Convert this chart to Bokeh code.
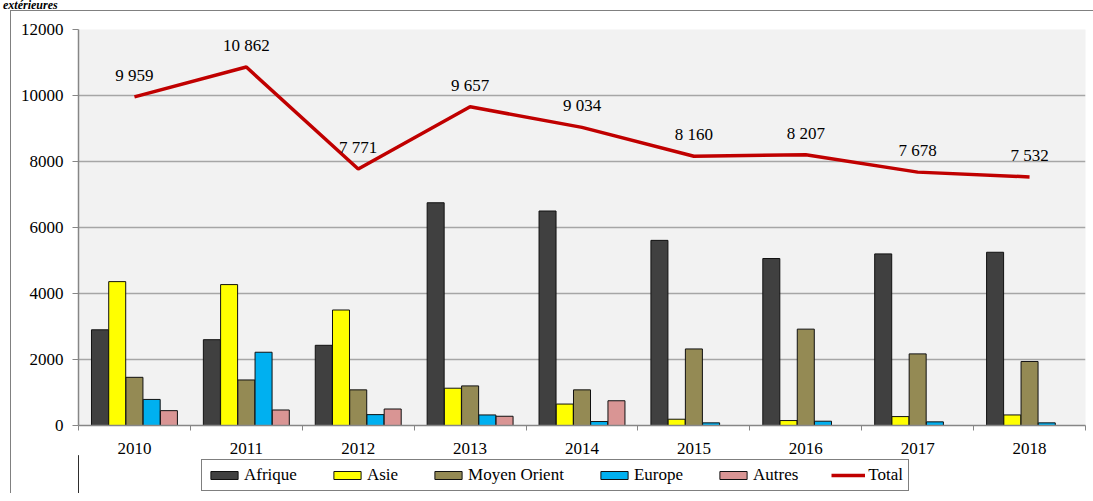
from bokeh.plotting import figure
from bokeh.models import (Range1d, FixedTicker, Legend, LegendItem, ColumnDataSource,
                          Div, InlineStyleSheet)
from bokeh.layouts import column
from bokeh.core.properties import value
from bokeh.embed import file_html
from bokeh.resources import INLINE

years = ["2010", "2011", "2012", "2013", "2014", "2015", "2016", "2017", "2018"]
afrique = [2900, 2600, 2430, 6750, 6500, 5610, 5060, 5200, 5250]
asie = [4360, 4270, 3500, 1130, 650, 190, 150, 270, 320]
moyen_orient = [1460, 1380, 1080, 1200, 1080, 2320, 2920, 2170, 1940]
europe = [790, 2220, 330, 320, 120, 80, 130, 110, 80]
autres = [450, 470, 500, 280, 750, 0, 0, 0, 0]
total = [9959, 10862, 7771, 9657, 9034, 8160, 8207, 7678, 7532]
title_text = "extérieures"

series = [
    ("Afrique", afrique, "#404040"),
    ("Asie", asie, "#ffff00"),
    ("Moyen Orient", moyen_orient, "#948a54"),
    ("Europe", europe, "#00b0f0"),
    ("Autres", autres, "#d99594"),
]
total_color = "#c00000"

FONT = "Liberation Serif"
FS = "17px"

frame_css = InlineStyleSheet(css=":host { border-top: 1px solid #808080; border-left: 1px solid #808080; }")
left_css = InlineStyleSheet(css=":host { border-left: 1px solid #808080; }")

p = figure(frame_width=1006, frame_height=395, output_backend="svg", toolbar_location=None,
           x_range=Range1d(0, len(years)), y_range=Range1d(0, 12000),
           min_border_left=67, min_border_right=9, min_border_top=18, min_border_bottom=0,
           margin=(0, 0, 0, 10), stylesheets=[frame_css])
p.background_fill_color = "#f2f2f2"
p.border_fill_color = "white"
p.outline_line_color = None

centers = [i + 0.5 for i in range(len(years))]
bar_w = 0.152
step = 0.154
for k, (name, vals, col) in enumerate(series):
    xs = [c + (k - 2) * step for c in centers]
    p.vbar(x=xs, top=vals, width=bar_w, bottom=0, fill_color=col,
           line_color="#111111", line_width=1)

src = ColumnDataSource(dict(x=centers, y=total,
                            lab=[f"{v:,}".replace(",", " ") for v in total]))
p.line("x", "y", source=src, line_color=total_color, line_width=3.5)
p.text("x", "y", text="lab", source=src, text_align="center", text_baseline="middle",
       y_offset=-21.5, text_font=value(FONT), text_font_size=FS, text_color="black")

yticks = [0, 2000, 4000, 6000, 8000, 10000, 12000]
p.xgrid.visible = False
p.ygrid.grid_line_color = "#a6a6a6"
p.ygrid.grid_line_width = 1.5
p.ygrid.ticker = FixedTicker(ticks=yticks)

p.yaxis.ticker = FixedTicker(ticks=yticks)
p.yaxis.axis_line_color = "#868686"
p.yaxis.axis_line_width = 1.5
p.yaxis.major_tick_line_color = "#868686"
p.yaxis.major_tick_out = 6
p.yaxis.major_tick_in = 0
p.yaxis.minor_tick_line_color = None
p.yaxis.major_label_standoff = 9
p.yaxis.major_label_text_font = FONT
p.yaxis.major_label_text_font_size = FS
p.yaxis.major_label_text_color = "black"

p.xaxis.ticker = FixedTicker(ticks=centers, minor_ticks=list(range(len(years) + 1)))
p.xaxis.major_label_overrides = {c: y for c, y in zip(centers, years)}
p.xaxis.axis_line_color = "#868686"
p.xaxis.axis_line_width = 1.5
p.xaxis.major_tick_line_color = None
p.xaxis.minor_tick_line_color = "#868686"
p.xaxis.minor_tick_out = 5
p.xaxis.minor_tick_in = 0
p.xaxis.major_label_standoff = 11
p.xaxis.major_label_text_font = FONT
p.xaxis.major_label_text_font_size = FS
p.xaxis.major_label_text_color = "black"

# legend strip (separate small figure so the legend is not clipped)
lf = figure(width=1082, height=38, output_backend="svg", toolbar_location=None,
            x_range=Range1d(0, 1), y_range=Range1d(0, 1), min_border=0,
            x_axis_location=None, y_axis_location=None,
            margin=(0, 0, 0, 10), stylesheets=[left_css])
lf.outline_line_color = None
lf.background_fill_color = "white"
lf.border_fill_color = "white"
lf.grid.visible = False
items = []
for name, vals, col in series:
    # one point placed outside the visible range so the legend swatch is drawn
    r = lf.vbar(x=[-10], top=[1], width=0.1, fill_color=col, line_color="#111111", line_width=1)
    items.append(LegendItem(label=name, renderers=[r]))
rl = lf.line(x=[-10, -9], y=[0.5, 0.5], line_color=total_color, line_width=3.5)
items.append(LegendItem(label="Total", renderers=[rl]))

legend = Legend(items=items, orientation="horizontal", location=(123, 2),
                label_text_font=FONT, label_text_font_size=FS, label_text_color="black",
                glyph_width=34, glyph_height=10, label_standoff=3, spacing=33,
                padding=5, margin=0, label_height=18,
                border_line_color="black", border_line_width=1,
                background_fill_color="white", background_fill_alpha=1)
lf.add_layout(legend, "center")

title_div = Div(text=title_text, width=300, height=10, margin=(0, 0, 0, 0),
                styles={"font-family": FONT, "font-size": "12px", "font-weight": "bold",
                        "font-style": "italic", "line-height": "10px", "padding-left": "3px",
                        "color": "black"})

layout = column(title_div, p, lf, spacing=0, margin=(0, 0, 0, 0))
open("out.html", "w").write(file_html(layout, INLINE))
